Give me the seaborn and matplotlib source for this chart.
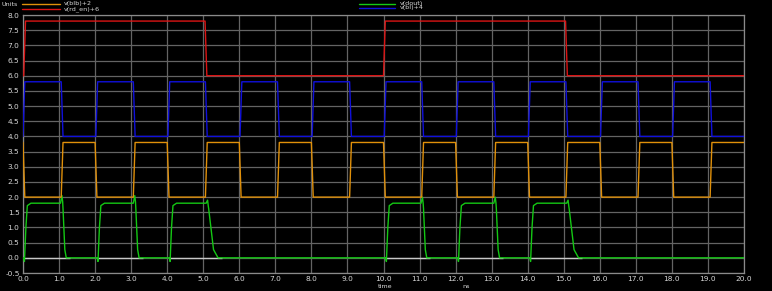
import numpy as np
import pandas as pd
import matplotlib
matplotlib.use("Agg")
import matplotlib.pyplot as plt
from matplotlib.lines import Line2D
import seaborn as sns

# ---------------- data ----------------
x_ticks = [0.0, 1.0, 2.0, 3.0, 4.0, 5.0, 6.0, 7.0, 8.0, 9.0, 10.0,
           11.0, 12.0, 13.0, 14.0, 15.0, 16.0, 17.0, 18.0, 19.0, 20.0]
y_ticks = [-0.5, 0.0, 0.5, 1.0, 1.5, 2.0, 2.5, 3.0, 3.5, 4.0, 4.5,
           5.0, 5.5, 6.0, 6.5, 7.0, 7.5, 8.0]

# v(bl)+4 : blue, levels 4.0 / 5.8
bl_low, bl_high = 4.0, 5.8
bl_rise = [0.0, 2.02, 4.02, 6.02, 8.02, 10.02, 12.02, 14.02, 16.02, 18.02]
bl_fall = [1.06, 3.06, 5.06, 7.06, 9.06, 11.06, 13.06, 15.06, 17.06, 19.06]

# v(blb)+2 : orange, levels 2.0 / 3.8
blb_low, blb_high = 2.0, 3.8
blb_fall = [0.0, 2.0, 4.0, 6.0, 8.0, 10.0, 12.0, 14.0, 16.0, 18.0]
blb_rise = [1.06, 3.06, 5.06, 7.06, 9.06, 11.06, 13.06, 15.06, 17.06, 19.06]

# v(rd_en)+6 : red, levels 6.0 / 7.8
rd_low, rd_high = 6.0, 7.8
rd_rise = [0.02, 10.0]
rd_fall = [5.05, 15.05]

# v(dout) : green pulses
dout_start = [0.02, 2.06, 4.06, 10.06, 12.06, 14.06]
dout_end = [1.1, 3.12, 5.14, 11.1, 13.12, 15.14]
dout_peak = [2.05, 2.05, 1.9, 2.0, 2.0, 1.9]
dout_tail = [0.08, 0.08, 0.25, 0.08, 0.08, 0.25]
dout_high = 1.8
dout_dip = -0.12

t_stop = 20.0


def square_wave(first_level, lo, hi, rises, falls, edge=0.05):
    events = sorted([(t, hi) for t in rises] + [(t, lo) for t in falls])
    ts, vs = [0.0], [first_level]
    cur = first_level
    for t, v in events:
        if t > ts[-1]:
            ts.append(t)
            vs.append(cur)
        ts.append(t + edge)
        vs.append(v)
        cur = v
    ts.append(t_stop)
    vs.append(cur)
    return pd.DataFrame({"t": ts, "v": vs})


def dout_wave():
    ts, vs = [0.0], [0.0]
    for s, e, p, tl in zip(dout_start, dout_end, dout_peak, dout_tail):
        ts += [s, s + 0.02, s + 0.06, s + 0.1, s + 0.2, e - 0.06, e - 0.02,
               e, e + 0.01, e + 0.02 + tl * 0.5, e + 0.02 + tl]
        vs += [0.0, dout_dip, 1.0, 1.72, dout_high, dout_high, p,
               p - 0.2, dout_high * 0.9, dout_high * 0.15, 0.0]
    ts.append(t_stop)
    vs.append(0.0)
    return pd.DataFrame({"t": ts, "v": vs})


df_bl = square_wave(bl_low, bl_low, bl_high, bl_rise, bl_fall)
df_blb = square_wave(blb_high, blb_low, blb_high, blb_rise, blb_fall)
df_rd = square_wave(rd_low, rd_low, rd_high, rd_rise, rd_fall)
df_dout = dout_wave()

# ---------------- style ----------------
sns.set_theme(style="dark")
plt.rcParams.update({
    "font.family": ["DejaVu Sans"],
    "figure.facecolor": "black",
    "axes.facecolor": "black",
    "savefig.facecolor": "black",
    "axes.edgecolor": "#8a8a8a",
    "text.color": "#d8d8d8",
    "xtick.color": "#d8d8d8",
    "ytick.color": "#d8d8d8",
})

c_blb = "#e0900a"
c_rd = "#dc1414"
c_dout = "#14c814"
c_bl = "#1010dc"

fig = plt.figure(figsize=(7.72, 2.91), dpi=100)
ax = fig.add_axes([23 / 772, 18 / 291, (744 - 23) / 772, (273 - 15) / 291])

ax.set_xlim(0, 20)
ax.set_ylim(-0.5, 8.0)
ax.set_xticks(x_ticks)
ax.set_yticks(y_ticks)
ax.set_xticklabels([f"{v:.1f}" for v in x_ticks])
ax.set_yticklabels([f"{v:.1f}" for v in y_ticks])
ax.tick_params(axis="both", labelsize=5.3, length=1.5, width=0.6, pad=1.0,
               color="#8a8a8a")
ax.grid(True, color="#646464", linewidth=0.9)
ax.set_axisbelow(True)
for sp in ax.spines.values():
    sp.set_color("#8a8a8a")
    sp.set_linewidth(0.9)

# light baseline during dout pulses
for s, e, tl in zip(dout_start, dout_end, dout_tail):
    ax.hlines(0.0, s, e + 0.02 + tl + 0.1, color="#c8c8c8", linewidth=1.0, zorder=2)

kw = dict(x="t", y="v", sort=False, estimator=None, ax=ax, linewidth=1.0, legend=False)
sns.lineplot(data=df_dout, color=c_dout, zorder=3, **kw)
sns.lineplot(data=df_blb, color=c_blb, zorder=4, **kw)
sns.lineplot(data=df_bl, color=c_bl, zorder=4, **kw)
sns.lineplot(data=df_rd, color=c_rd, zorder=5, **kw)

ax.set_xlabel("")
ax.set_ylabel("")

# ---------------- header legend ----------------
fs = 4.6
def fy(py):
    return 1 - py / 291

fig.text(2 / 772, fy(5), "Units", fontsize=fs, va="center", ha="left")
for (y, col, lab, x0, x1, xt) in [
    (3.5, c_blb, "v(blb)+2", 22, 60, 64),
    (9, c_rd, "v(rd_en)+6", 22, 60, 64),
    (3.5, c_dout, "v(dout)", 359, 395, 400),
    (8, c_bl, "v(bl)+4", 359, 395, 400),
]:
    fig.add_artist(Line2D([x0 / 772, x1 / 772], [fy(y), fy(y)], color=col,
                          linewidth=1.0, transform=fig.transFigure))
    fig.text(xt / 772, fy(y), lab, fontsize=fs, va="center", ha="left")

fig.text(385 / 772, fy(287), "time", fontsize=fs, va="center", ha="center")
fig.text(466 / 772, fy(287), "ns", fontsize=fs, va="center", ha="center")

fig.savefig("out.png", dpi=100)
